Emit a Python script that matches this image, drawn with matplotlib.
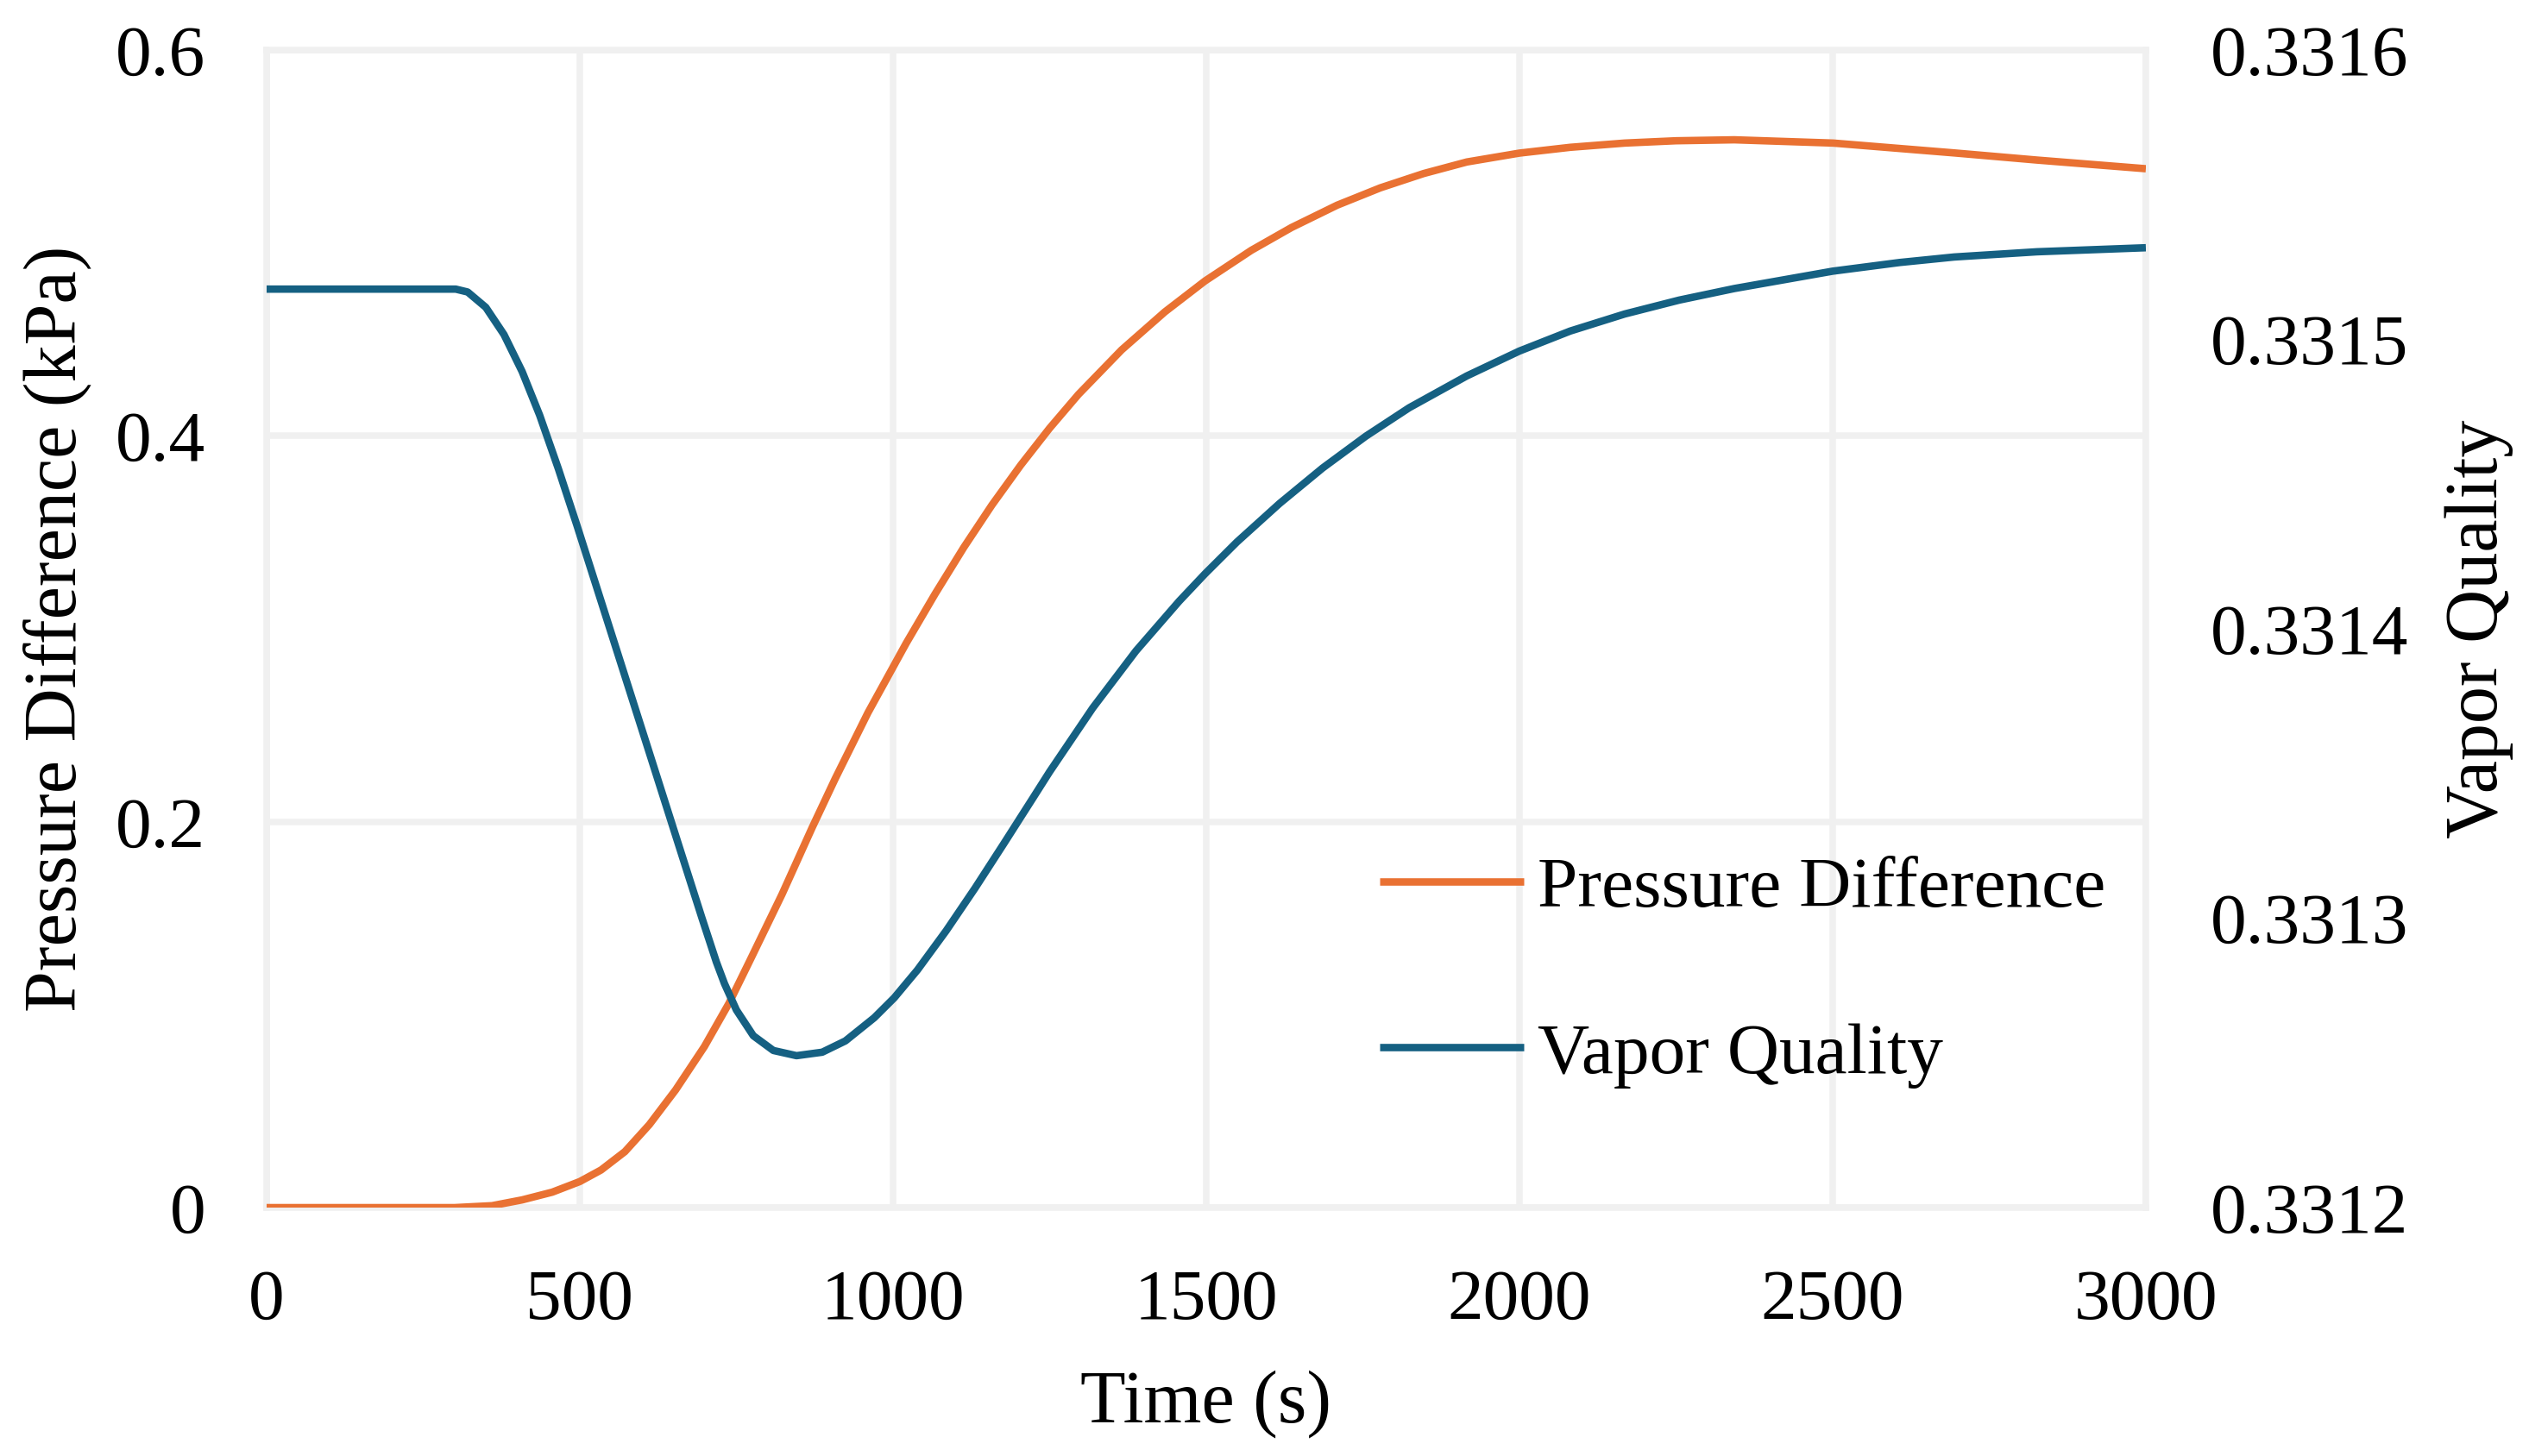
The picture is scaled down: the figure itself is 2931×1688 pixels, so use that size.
import matplotlib
matplotlib.use("Agg")
import matplotlib.pyplot as plt

# Pressure difference (kPa), left axis
time_p = [0, 300, 360, 408, 456, 500, 534, 572, 611, 653, 699, 738, 773,
          823, 871, 908, 960, 1021, 1067, 1113, 1158, 1204, 1250, 1296,
          1365, 1434, 1498, 1572, 1636, 1709, 1778, 1847, 1916, 2000, 2081,
          2168, 2250, 2343, 2501, 2694, 2826, 3000]
pressure = [0, 0, 0.001, 0.004, 0.008, 0.0135, 0.0195, 0.029, 0.043, 0.061,
            0.0835, 0.1058, 0.129, 0.1625, 0.197, 0.2225, 0.2565, 0.2925,
            0.318, 0.3422, 0.3642, 0.3849, 0.4040, 0.4215, 0.4446, 0.4643,
            0.4803, 0.4962, 0.5080, 0.5196, 0.5286, 0.5360, 0.5420, 0.5466,
            0.5496, 0.5518, 0.5530, 0.5535, 0.5518, 0.5467, 0.5430, 0.5385]

# Vapor quality, right axis
time_q = [0, 302, 321, 350, 379, 408, 436, 466, 496, 525, 555, 585, 615,
          647, 672, 695, 718, 731, 750, 777, 809, 846, 887, 924, 970, 1002,
          1039, 1085, 1131, 1177, 1223, 1250, 1319, 1388, 1457, 1498, 1549,
          1617, 1686, 1755, 1824, 1916, 2000, 2081, 2168, 2255, 2343, 2500,
          2607, 2694, 2826, 3000]
quality = [0.3315174, 0.3315174, 0.3315164, 0.3315111, 0.3315017, 0.3314889,
           0.3314738, 0.3314552, 0.3314354, 0.3314157, 0.3313953, 0.3313749,
           0.3313545, 0.3313327, 0.3313157, 0.3313001, 0.3312849, 0.3312774,
           0.3312683, 0.3312594, 0.3312543, 0.3312525, 0.3312537, 0.3312576,
           0.3312656, 0.3312725, 0.3312821, 0.3312957, 0.3313104, 0.3313258,
           0.3313414, 0.3313506, 0.3313727, 0.3313924, 0.3314096, 0.3314190,
           0.3314300, 0.3314433, 0.3314556, 0.3314666, 0.3314764, 0.3314874,
           0.3314960, 0.3315029, 0.3315088, 0.3315136, 0.3315176, 0.3315236,
           0.3315266, 0.3315285, 0.3315303, 0.3315317]

x_ticks = [0, 500, 1000, 1500, 2000, 2500, 3000]
p_ticks = [0, 0.2, 0.4, 0.6]
p_labels = ["0", "0.2", "0.4", "0.6"]
q_ticks = [0.3312, 0.3313, 0.3314, 0.3315, 0.3316]
q_labels = ["0.3312", "0.3313", "0.3314", "0.3315", "0.3316"]

orange = "#E97132"
blue = "#156082"
grid_c = "#F0F0F0"

plt.rcParams["font.family"] = ["Liberation Serif", "DejaVu Serif"]

fig = plt.figure(figsize=(29.31, 16.88), dpi=100)
ax = fig.add_axes([0.1054, 0.1706, 0.7431, 0.7950])
ax2 = ax.twinx()

ax.plot(time_p, pressure, color=orange, lw=6.2, zorder=3,
        solid_capstyle="butt", solid_joinstyle="round",
        label="Pressure Difference")
ax2.plot(time_q, quality, color=blue, lw=6.2, zorder=3,
         solid_capstyle="butt", solid_joinstyle="round",
         label="Vapor Quality")

ax.set_xlim(0, 3000)
ax.set_ylim(0, 0.6)
ax2.set_ylim(0.3312, 0.3316)

ax.set_xticks(x_ticks)
ax.set_yticks(p_ticks)
ax.set_yticklabels(p_labels)
ax2.set_yticks(q_ticks)
ax2.set_yticklabels(q_labels)

ax.grid(True, color=grid_c, lw=5.4)
ax.set_axisbelow(True)
for s in ax.spines.values():
    s.set_color(grid_c)
    s.set_linewidth(5.4)
for s in ax2.spines.values():
    s.set_visible(False)

ax.tick_params(axis="x", length=0, pad=51, labelsize=60)
ax.tick_params(axis="y", length=0, pad=51, labelsize=60)
ax2.tick_params(axis="y", length=0, pad=54, labelsize=60)

ax.set_xlabel("Time (s)", fontsize=62, labelpad=30)
ax.set_ylabel("Pressure Difference (kPa)", fontsize=62, labelpad=20)
ax2.set_ylabel("Vapor Quality", fontsize=62, labelpad=30)

h1, l1 = ax.get_legend_handles_labels()
h2, l2 = ax2.get_legend_handles_labels()
ax2.legend(h1 + h2, l1 + l2, loc="upper left", bbox_to_anchor=(0.5923, 0.3033),
           frameon=False, fontsize=60, handlelength=2.0, handletextpad=0.2,
           labelspacing=1.39, borderpad=0, borderaxespad=0)

fig.savefig("out.png", dpi=100, facecolor="white")
